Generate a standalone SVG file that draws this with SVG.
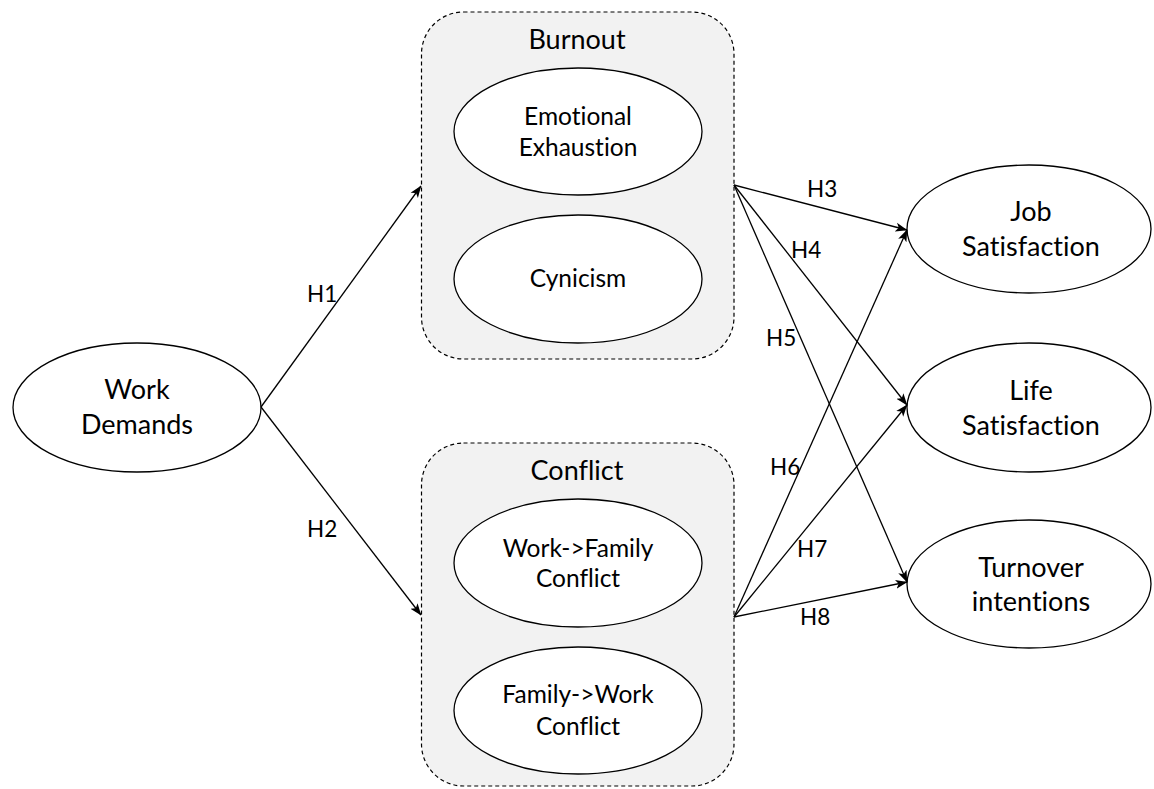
<svg xmlns="http://www.w3.org/2000/svg" width="1154" height="789" viewBox="0 0 1154 789">
<defs>
<marker id="arr" viewBox="0 0 12 10" refX="11.5" refY="5" markerWidth="12" markerHeight="10" markerUnits="userSpaceOnUse" orient="auto">
<path d="M0,0.5 L12,5 L0,9.5 L3,5 Z" fill="#000"/>
</marker>
<style>
text{font-family:Lato,"Liberation Sans",sans-serif;fill:#000;text-anchor:middle;font-variant-ligatures:none}
.big{font-size:27px}
.mid{font-size:24.5px}
.lab{font-size:22.5px;text-anchor:start}
.box{fill:#f2f2f2;stroke:#000;stroke-width:1.2;stroke-dasharray:4 3}
.ell{fill:#fff;stroke:#000;stroke-width:1.3}
.con{fill:none;stroke:#000;stroke-width:1.3;marker-end:url(#arr)}
</style>
</defs>
<rect width="1154" height="789" fill="#fff"/>
<g id="burnout">
<rect class="box" x="421.5" y="12" width="312.5" height="347" rx="42" ry="42"/>
<text class="big" x="577" y="49">Burnout</text>
</g>
<g id="conflict">
<rect class="box" x="421.5" y="443" width="312.5" height="343" rx="42" ry="42"/>
<text class="big" x="577" y="480">Conflict</text>
</g>
<g id="emotional-exhaustion">
<ellipse class="ell" cx="578" cy="131.5" rx="124" ry="63.5"/>
<text class="mid" x="578" y="125">Emotional</text>
<text class="mid" x="578" y="156">Exhaustion</text>
</g>
<g id="cynicism">
<ellipse class="ell" cx="578" cy="279" rx="124" ry="64"/>
<text class="mid" x="578" y="287">Cynicism</text>
</g>
<g id="work-family">
<ellipse class="ell" cx="578" cy="563" rx="124" ry="64"/>
<text class="mid" x="578" y="557">Work-&gt;Family</text>
<text class="mid" x="578" y="587">Conflict</text>
</g>
<g id="family-work">
<ellipse class="ell" cx="578" cy="710.5" rx="124" ry="63.5"/>
<text class="mid" x="578" y="703">Family-&gt;Work</text>
<text class="mid" x="578" y="735">Conflict</text>
</g>
<g id="work-demands">
<ellipse class="ell" cx="137" cy="407.5" rx="124" ry="64.5"/>
<text class="big" x="137" y="399">Work</text>
<text class="big" x="137" y="434">Demands</text>
</g>
<g id="job-satisfaction">
<ellipse class="ell" cx="1029" cy="229" rx="122" ry="64"/>
<text class="big" x="1031" y="221">Job</text>
<text class="big" x="1031" y="256">Satisfaction</text>
</g>
<g id="life-satisfaction">
<ellipse class="ell" cx="1029" cy="407.5" rx="122" ry="64.5"/>
<text class="big" x="1031" y="400">Life</text>
<text class="big" x="1031" y="435">Satisfaction</text>
</g>
<g id="turnover-intentions">
<ellipse class="ell" cx="1029" cy="584" rx="122" ry="64"/>
<text class="big" x="1031" y="577">Turnover</text>
<text class="big" x="1031" y="611">intentions</text>
</g>
<g id="connectors">
<line class="con" x1="261" y1="407" x2="421" y2="186"/>
<line class="con" x1="261" y1="407" x2="421" y2="615"/>
<line class="con" x1="734" y1="185" x2="907" y2="230"/>
<line class="con" x1="734" y1="185" x2="907" y2="405"/>
<line class="con" x1="734" y1="185" x2="907" y2="582"/>
<line class="con" x1="734" y1="617" x2="907" y2="230"/>
<line class="con" x1="734" y1="617" x2="907" y2="405"/>
<line class="con" x1="734" y1="617" x2="907" y2="582"/>
<text class="lab" x="307" y="302">H1</text>
<text class="lab" x="307" y="537">H2</text>
<text class="lab" x="807" y="197">H3</text>
<text class="lab" x="791" y="258">H4</text>
<text class="lab" x="766" y="346">H5</text>
<text class="lab" x="770" y="475">H6</text>
<text class="lab" x="797" y="557">H7</text>
<text class="lab" x="800" y="625">H8</text>
</g>
</svg>
